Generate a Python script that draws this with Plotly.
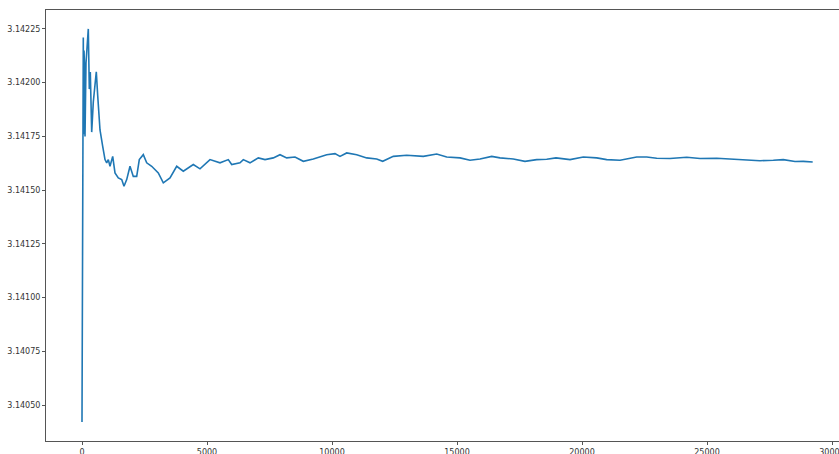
import plotly.graph_objects as go

# Sample index (number of terms / samples) and running estimate of pi
sample_n = [
    0, 4, 8, 14, 22, 30, 40, 52, 64, 80, 100, 120, 160, 212, 252, 292, 332, 388, 452, 520,
    572, 628, 720, 828, 920, 988, 1052, 1120, 1228, 1320, 1452, 1588, 1680, 1788, 1920,
    2052, 2188, 2292, 2452, 2588, 2788, 3052, 3252, 3520, 3788, 4052, 4252, 4452, 4720,
    5120, 5520, 5852, 5988, 6320, 6452, 6720, 7052, 7320, 7652, 7920, 8188, 8520, 8852,
    9252, 9788, 10120, 10320, 10588, 10988, 11388, 11788, 12028, 12452, 12988, 13652,
    14188, 14588, 15120, 15520, 15920, 16388, 16720, 17252, 17720, 18188, 18588, 18960,
    19520, 20052, 20588, 20988, 21520, 22188, 22588, 22988, 23520, 24188, 24720, 25388,
    26052, 26588, 27120, 27652, 28052, 28520, 28852, 29228,
]
pi_estimate = [
    3.140421, 3.140800, 3.141250, 3.141500, 3.141400, 3.141700, 3.141800, 3.142210,
    3.141760, 3.142150, 3.142080, 3.141750, 3.142090, 3.142200, 3.142250, 3.141970,
    3.142050, 3.141770, 3.141910, 3.141990, 3.142050, 3.141940, 3.141780, 3.141704,
    3.141642, 3.141627, 3.141642, 3.141611, 3.141657, 3.141580, 3.141557, 3.141549,
    3.141518, 3.141549, 3.141611, 3.141564, 3.141564, 3.141642, 3.141665, 3.141627,
    3.141611, 3.141580, 3.141534, 3.141557, 3.141611, 3.141588, 3.141603, 3.141619,
    3.141599, 3.141642, 3.141627, 3.141642, 3.141619, 3.141627, 3.141642, 3.141627,
    3.141650, 3.141642, 3.141650, 3.141665, 3.141650, 3.141654, 3.141634, 3.141645,
    3.141665, 3.141670, 3.141657, 3.141673, 3.141665, 3.141650, 3.141645, 3.141634,
    3.141657, 3.141662, 3.141657, 3.141668, 3.141654, 3.141650, 3.141639, 3.141645,
    3.141657, 3.141650, 3.141645, 3.141634, 3.141642, 3.141644, 3.141650, 3.141642,
    3.141654, 3.141650, 3.141642, 3.141639, 3.141654, 3.141654, 3.141648, 3.141647,
    3.141653, 3.141647, 3.141648, 3.141645, 3.141642, 3.141637, 3.141639, 3.141642,
    3.141633, 3.141634, 3.141631,
]

x_ticks = [0, 5000, 10000, 15000, 20000, 25000, 30000]
y_ticks = [3.14050, 3.14075, 3.14100, 3.14125, 3.14150, 3.14175, 3.14200, 3.14225]
y_tick_labels = ["3.14050", "3.14075", "3.14100", "3.14125", "3.14150", "3.14175", "3.14200", "3.14225"]

fig = go.Figure()
fig.add_trace(go.Scatter(
    x=sample_n, y=pi_estimate, mode="lines",
    line=dict(color="#1f77b4", width=1.6),
    showlegend=False, hoverinfo="skip",
))

axis_font = dict(family="DejaVu Sans", size=8, color="#333333")
fig.update_layout(
    width=839, height=454,
    margin=dict(l=46, r=0, t=10, b=13, autoexpand=False),
    paper_bgcolor="white", plot_bgcolor="white",
    font=axis_font,
    xaxis=dict(
        range=[-1440, 30280], tickvals=x_ticks, ticktext=[str(t) for t in x_ticks],
        showgrid=False, zeroline=False, showline=True, linecolor="#555555", linewidth=1,
        mirror=True, ticks="outside", ticklen=3, tickcolor="#555555", tickfont=axis_font,
        automargin=False, ticklabeloverflow="allow",
    ),
    yaxis=dict(
        range=[3.140333, 3.142338], tickvals=y_ticks, ticktext=y_tick_labels,
        showgrid=False, zeroline=False, showline=True, linecolor="#555555", linewidth=1,
        mirror=False, ticks="outside", ticklen=3, tickcolor="#555555", tickfont=axis_font,
        automargin=False,
    ),
)

fig.write_html(
    "out.html",
    config={"displayModeBar": False, "staticPlot": True},
    post_script="document.body.style.margin='0';document.body.style.overflow='hidden';",
)
